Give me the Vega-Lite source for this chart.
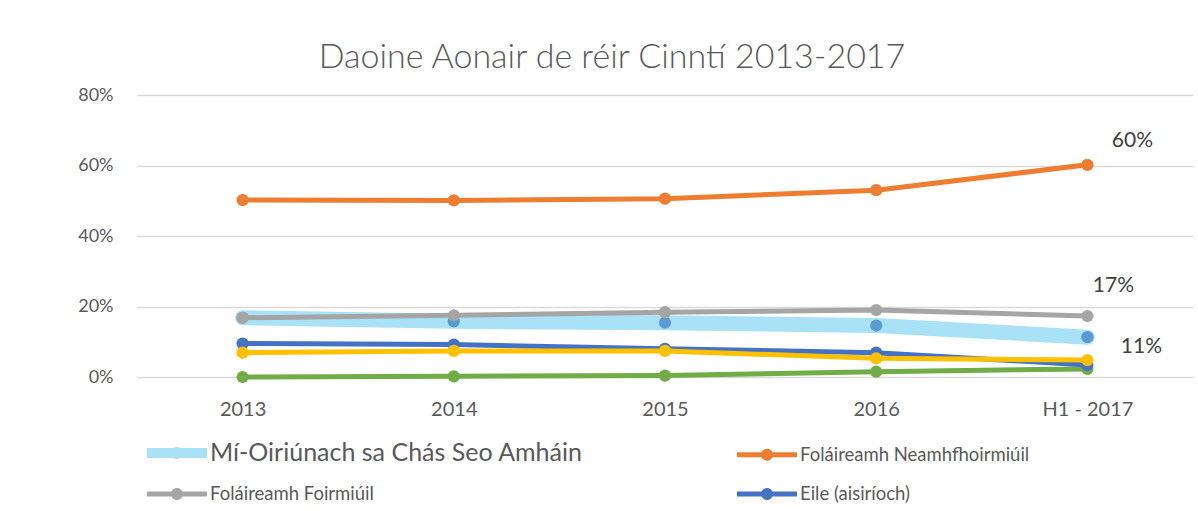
{
  "$schema": "https://vega.github.io/schema/vega-lite/v6.json",
  "width": 1056,
  "height": 282,
  "autosize": {"type": "none"},
  "padding": {"left": 137, "top": 95, "right": 5, "bottom": 134},
  "background": "white",
  "config": {"font": "Lato", "view": {"stroke": null}},
  "title": {"text": "Daoine Aonair de réir Cinntí 2013-2017", "fontSize": 34, "fontWeight": 300, "color": "#595959", "anchor": "middle", "dx": -53, "baseline": "alphabetic", "offset": -16},
  "data": {"values": [
    {"series": "Mí-Oiriúnach sa Chás Seo Amháin", "period": "2013", "value": 16.8},
    {"series": "Mí-Oiriúnach sa Chás Seo Amháin", "period": "2014", "value": 15.8},
    {"series": "Mí-Oiriúnach sa Chás Seo Amháin", "period": "2015", "value": 15.4},
    {"series": "Mí-Oiriúnach sa Chás Seo Amháin", "period": "2016", "value": 14.6},
    {"series": "Mí-Oiriúnach sa Chás Seo Amháin", "period": "H1 - 2017", "value": 11.3, "label": "11%"},
    {"series": "Foláireamh Neamhfhoirmiúil", "period": "2013", "value": 50.2},
    {"series": "Foláireamh Neamhfhoirmiúil", "period": "2014", "value": 50.1},
    {"series": "Foláireamh Neamhfhoirmiúil", "period": "2015", "value": 50.6},
    {"series": "Foláireamh Neamhfhoirmiúil", "period": "2016", "value": 53.0},
    {"series": "Foláireamh Neamhfhoirmiúil", "period": "H1 - 2017", "value": 60.2, "label": "60%"},
    {"series": "Foláireamh Foirmiúil", "period": "2013", "value": 16.8},
    {"series": "Foláireamh Foirmiúil", "period": "2014", "value": 17.5},
    {"series": "Foláireamh Foirmiúil", "period": "2015", "value": 18.4},
    {"series": "Foláireamh Foirmiúil", "period": "2016", "value": 19.0},
    {"series": "Foláireamh Foirmiúil", "period": "H1 - 2017", "value": 17.3, "label": "17%"},
    {"series": "Eile (aisiríoch)", "period": "2013", "value": 9.5},
    {"series": "Eile (aisiríoch)", "period": "2014", "value": 9.2},
    {"series": "Eile (aisiríoch)", "period": "2015", "value": 8.0},
    {"series": "Eile (aisiríoch)", "period": "2016", "value": 6.9},
    {"series": "Eile (aisiríoch)", "period": "H1 - 2017", "value": 3.4},
    {"series": "Sraith 5", "period": "2013", "value": 6.9},
    {"series": "Sraith 5", "period": "2014", "value": 7.4},
    {"series": "Sraith 5", "period": "2015", "value": 7.4},
    {"series": "Sraith 5", "period": "2016", "value": 5.3},
    {"series": "Sraith 5", "period": "H1 - 2017", "value": 4.8},
    {"series": "Sraith 6", "period": "2013", "value": 0.0},
    {"series": "Sraith 6", "period": "2014", "value": 0.2},
    {"series": "Sraith 6", "period": "2015", "value": 0.4},
    {"series": "Sraith 6", "period": "2016", "value": 1.5},
    {"series": "Sraith 6", "period": "H1 - 2017", "value": 2.3}
  ]},
  "encoding": {
    "x": {"field": "period", "type": "ordinal", "sort": ["2013", "2014", "2015", "2016", "H1 - 2017"],
      "axis": {"title": null, "labelAngle": 0, "domain": false, "ticks": false, "labelFontSize": 20, "labelColor": "#595959", "labelPadding": 22}},
    "y": {"field": "value", "type": "quantitative", "scale": {"domain": [0, 80], "nice": false},
      "axis": {"title": null, "values": [0, 20, 40, 60, 80], "labelExpr": "datum.value + '%'", "domain": false, "ticks": false, "labelFontSize": 18, "labelColor": "#595959", "labelPadding": 24, "gridColor": "#D9D9D9", "gridWidth": 1.3}}
  },
  "layer": [
    {"transform": [{"filter": "datum.series == 'Mí-Oiriúnach sa Chás Seo Amháin'"}],
     "mark": {"type": "line", "strokeWidth": 15, "strokeCap": "round", "strokeJoin": "round"},
     "encoding": {"color": {"field": "series", "type": "nominal",
        "scale": {"domain": ["Mí-Oiriúnach sa Chás Seo Amháin", "Foláireamh Neamhfhoirmiúil", "Foláireamh Foirmiúil", "Eile (aisiríoch)", "Sraith 5", "Sraith 6"],
                  "range": ["#A9E1F6", "#ED7D31", "#A5A5A5", "#4472C4", "#FFC000", "#70AD47"]},
        "legend": {"title": null, "orient": "none", "legendX": 10, "legendY": 348, "columns": 2, "columnPadding": 154, "rowPadding": 18,
          "values": ["Mí-Oiriúnach sa Chás Seo Amháin", "Foláireamh Foirmiúil", "Foláireamh Neamhfhoirmiúil", "Eile (aisiríoch)"],
          "symbolSize": 400, "symbolType": "M -1 -0.25 L 5 -0.25 L 5 0.25 L -1 0.25 Z M 2.6 0 A 0.6 0.6 0 1 1 1.4 0 A 0.6 0.6 0 1 1 2.6 0 Z",
          "symbolStrokeWidth": 0, "symbolOpacity": 1, "labelOffset": 43, "labelFontSize": 18.5, "labelColor": "#595959", "labelLimit": 600,
          "encode": {
            "symbols": {"update": {"shape": {"signal": "datum.value == 'Mí-Oiriúnach sa Chás Seo Amháin' ? 'M -1 -0.5 L 5 -0.5 L 5 0.5 L -1 0.5 Z M 2.6 0 A 0.6 0.6 0 1 1 1.4 0 A 0.6 0.6 0 1 1 2.6 0 Z' : 'M -1 -0.25 L 5 -0.25 L 5 0.25 L -1 0.25 Z M 2.6 0 A 0.6 0.6 0 1 1 1.4 0 A 0.6 0.6 0 1 1 2.6 0 Z'"}, "strokeWidth": {"value": 0}}},
            "labels": {"update": {"fontSize": {"signal": "datum.value == 'Mí-Oiriúnach sa Chás Seo Amháin' ? 25 : 18.5"}}}
          }}}}},
    {"transform": [{"filter": "datum.series == 'Mí-Oiriúnach sa Chás Seo Amháin'"}],
     "mark": {"type": "point", "filled": true, "size": 150, "opacity": 1, "color": "#5B9BD5"}},
    {"transform": [{"filter": "datum.series == 'Foláireamh Neamhfhoirmiúil'"}],
     "mark": {"type": "line", "strokeWidth": 5, "strokeCap": "round", "strokeJoin": "round"},
     "encoding": {"color": {"field": "series", "type": "nominal"}}},
    {"transform": [{"filter": "datum.series == 'Foláireamh Neamhfhoirmiúil'"}],
     "mark": {"type": "point", "filled": true, "size": 150, "opacity": 1},
     "encoding": {"color": {"field": "series", "type": "nominal"}}},
    {"transform": [{"filter": "datum.series == 'Foláireamh Foirmiúil'"}],
     "mark": {"type": "line", "strokeWidth": 5, "strokeCap": "round", "strokeJoin": "round"},
     "encoding": {"color": {"field": "series", "type": "nominal"}}},
    {"transform": [{"filter": "datum.series == 'Foláireamh Foirmiúil'"}],
     "mark": {"type": "point", "filled": true, "size": 150, "opacity": 1},
     "encoding": {"color": {"field": "series", "type": "nominal"}}},
    {"transform": [{"filter": "datum.series == 'Sraith 6'"}],
     "mark": {"type": "line", "strokeWidth": 5, "strokeCap": "round", "strokeJoin": "round"},
     "encoding": {"color": {"field": "series", "type": "nominal"}}},
    {"transform": [{"filter": "datum.series == 'Sraith 6'"}],
     "mark": {"type": "point", "filled": true, "size": 150, "opacity": 1},
     "encoding": {"color": {"field": "series", "type": "nominal"}}},
    {"transform": [{"filter": "datum.series == 'Eile (aisiríoch)'"}],
     "mark": {"type": "line", "strokeWidth": 5, "strokeCap": "round", "strokeJoin": "round"},
     "encoding": {"color": {"field": "series", "type": "nominal"}}},
    {"transform": [{"filter": "datum.series == 'Eile (aisiríoch)'"}],
     "mark": {"type": "point", "filled": true, "size": 150, "opacity": 1},
     "encoding": {"color": {"field": "series", "type": "nominal"}}},
    {"transform": [{"filter": "datum.series == 'Sraith 5'"}],
     "mark": {"type": "line", "strokeWidth": 5, "strokeCap": "round", "strokeJoin": "round"},
     "encoding": {"color": {"field": "series", "type": "nominal"}}},
    {"transform": [{"filter": "datum.series == 'Sraith 5'"}],
     "mark": {"type": "point", "filled": true, "size": 150, "opacity": 1},
     "encoding": {"color": {"field": "series", "type": "nominal"}}},
    {"transform": [{"filter": "datum.label == '60%'"}],
     "mark": {"type": "text", "fontSize": 21, "color": "#404040", "dx": 45, "dy": -24, "align": "center", "baseline": "middle"},
     "encoding": {"text": {"field": "label"}}},
    {"transform": [{"filter": "datum.label == '17%'"}],
     "mark": {"type": "text", "fontSize": 21, "color": "#404040", "dx": 26, "dy": -30, "align": "center", "baseline": "middle"},
     "encoding": {"text": {"field": "label"}}},
    {"transform": [{"filter": "datum.label == '11%'"}],
     "mark": {"type": "text", "fontSize": 21, "color": "#404040", "dx": 54, "dy": 10, "align": "center", "baseline": "middle"},
     "encoding": {"text": {"field": "label"}}}
  ]
}
